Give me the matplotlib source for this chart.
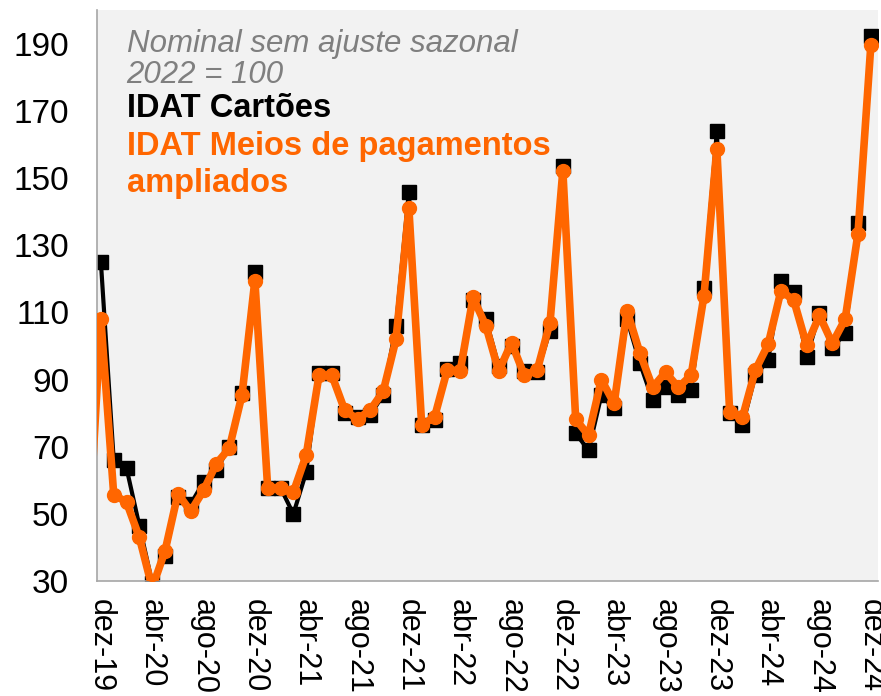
import numpy as np
import matplotlib.pyplot as plt

plt.rcParams['font.family'] = ['Liberation Sans', 'DejaVu Sans']

# monthly index values, dez-19 .. dez-24
cartoes = [125, 66, 63.6, 46.5, 29.5, 37.5, 55, 53, 59.5, 63, 70, 86,
           122, 57.6, 57.8, 50, 62.5, 92, 92, 80, 79, 79.5, 85.5, 106,
           146, 76.5, 78, 93.3, 95, 113.6, 108, 94, 100, 92.7, 92.2, 104.6,
           153.7, 74, 69, 85.3, 81.5, 108, 95, 83.8, 87.7, 85.3, 86.8, 117.4,
           164, 80, 76.4, 91.3, 95.7, 119.5, 116, 96.6, 109.7, 99.3, 104, 136.5,
           192.4]
# starts one month earlier (nov-19), first point falls outside the axis
meios = [40,
         108, 55.8, 53.5, 43, 28, 39, 56, 50.8, 57, 65, 69.5, 85.5,
         119.5, 57.6, 57.8, 56.5, 67.5, 91.3, 91.3, 80.9, 78.2, 81, 86.5, 102,
         141, 76.5, 78.8, 93, 92.5, 114.5, 106, 92.5, 101, 91.3, 92.8, 107,
         152.2, 78.2, 73.4, 90, 82.9, 110.5, 98, 87.7, 92.2, 87.7, 91.3, 115,
         158.8, 80.3, 78.8, 92.8, 100.5, 116.5, 113.6, 100.2, 109.1, 100.8, 108, 133.5,
         189.5]
tick_labels = ['dez-19', 'abr-20', 'ago-20', 'dez-20', 'abr-21', 'ago-21',
               'dez-21', 'abr-22', 'ago-22', 'dez-22', 'abr-23', 'ago-23',
               'dez-23', 'abr-24', 'ago-24', 'dez-24']
y_ticks = [30, 50, 70, 90, 110, 130, 150, 170, 190]

orange = '#ff6600'

fig = plt.figure(figsize=(8.81, 6.96), dpi=100)
ax = fig.add_axes([0.110, 0.165, 0.8866, 0.8204])
ax.set_facecolor('#f2f2f2')

x_c = np.arange(len(cartoes))
x_m = np.arange(len(meios)) - 1
ax.plot(x_c, cartoes, color='black', lw=3, marker='s', markersize=10, zorder=2)
ax.plot(x_m, meios, color=orange, lw=5.5, marker='o', markersize=10, zorder=3)

ax.set_xlim(-0.31, 60.56)
ax.set_ylim(30, 200)
ax.set_yticks(y_ticks)
ax.set_xticks(range(0, 61, 4))
ax.set_xticklabels(tick_labels, rotation=-90, va='top', ha='center')
ax.tick_params(axis='y', length=0, pad=20, labelsize=24)
ax.tick_params(axis='x', length=0, pad=13, labelsize=22)

for s in ['top', 'right']:
    ax.spines[s].set_visible(False)
for s in ['left', 'bottom']:
    ax.spines[s].set_color('#a6a6a6')
    ax.spines[s].set_linewidth(1.2)

tx = 0.038
ax.text(tx, 0.926, 'Nominal sem ajuste sazonal', transform=ax.transAxes,
        fontsize=22.5, style='italic', color='#7f7f7f', va='baseline')
ax.text(tx, 0.872, '2022 = 100', transform=ax.transAxes,
        fontsize=22.5, style='italic', color='#7f7f7f', va='baseline')
ax.text(tx, 0.813, 'IDAT Cartões', transform=ax.transAxes,
        fontsize=23.5, weight='bold', color='black', va='baseline')
ax.text(tx, 0.746, 'IDAT Meios de pagamentos', transform=ax.transAxes,
        fontsize=23.5, weight='bold', color=orange, va='baseline')
ax.text(tx, 0.681, 'ampliados', transform=ax.transAxes,
        fontsize=23.5, weight='bold', color=orange, va='baseline')

fig.savefig('out.png', dpi=100)
